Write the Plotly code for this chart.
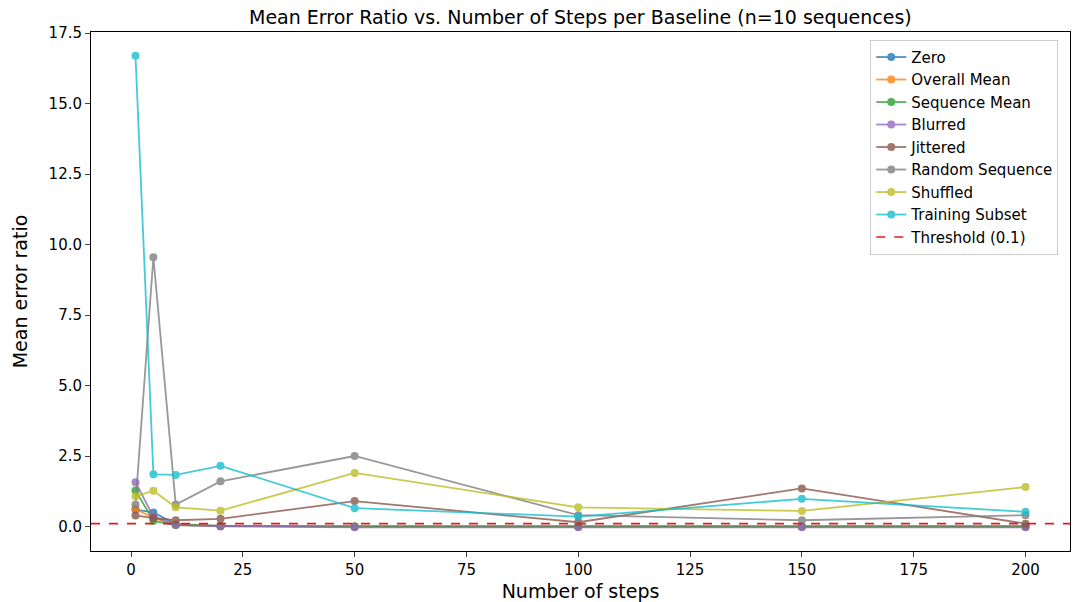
import plotly.graph_objects as go

steps = [1, 5, 10, 20, 50, 100, 150, 200]
zero = [0.6, 0.5, 0.08, 0.02, 0.0, 0.0, 0.0, 0.0]
overall_mean = [0.62, 0.3, 0.06, 0.02, 0.0, 0.0, 0.0, 0.0]
sequence_mean = [1.28, 0.2, 0.05, 0.02, 0.0, 0.0, 0.0, 0.0]
blurred = [1.57, 0.35, 0.05, 0.0, -0.03, -0.03, -0.03, -0.03]
jittered = [0.39, 0.3, 0.22, 0.27, 0.9, 0.15, 1.35, 0.1]
random_seq = [0.78, 9.55, 0.78, 1.6, 2.5, 0.4, 0.22, 0.4]
shuffled = [1.07, 1.27, 0.68, 0.56, 1.9, 0.68, 0.55, 1.4]
training_subset = [16.7, 1.85, 1.83, 2.15, 0.65, 0.35, 0.98, 0.52]

series = [("Zero", zero, "#1f77b4"), ("Overall Mean", overall_mean, "#ff7f0e"),
          ("Sequence Mean", sequence_mean, "#2ca02c"), ("Blurred", blurred, "#9467bd"),
          ("Jittered", jittered, "#8c564b"), ("Random Sequence", random_seq, "#7f7f7f"),
          ("Shuffled", shuffled, "#bcbd22"), ("Training Subset", training_subset, "#17becf")]

fig = go.Figure()
for name, vals, col in series:
    fig.add_trace(go.Scatter(x=steps, y=vals, name=name, mode="lines+markers",
                             line=dict(color=col, width=1.8), marker=dict(size=8, color=col),
                             opacity=0.8))
fig.add_trace(go.Scatter(x=[-8.95, 209.95], y=[0.1, 0.1], mode="lines", name="Threshold (0.1)",
                         line=dict(color="#e31a1c", dash="dash", width=1.6)))

fig.update_layout(
    width=1080, height=602, plot_bgcolor="white", paper_bgcolor="white",
    font=dict(family="DejaVu Sans", size=15, color="black"),
    title=dict(text="Mean Error Ratio vs. Number of Steps per Baseline (n=10 sequences)",
               x=0.53, xanchor="center", y=0.995, yanchor="top", font=dict(size=19)),
    margin=dict(l=83, r=18, t=24, b=55),
    xaxis=dict(title=dict(text="Number of steps", font=dict(size=19), standoff=6),
               range=[-8.95, 209.95], tickvals=[0, 25, 50, 75, 100, 125, 150, 175, 200],
               showline=True, linecolor="black", mirror=True, ticks="outside", showgrid=False, zeroline=False),
    yaxis=dict(title=dict(text="Mean error ratio", font=dict(size=19)),
               range=[-0.87, 17.54], tickvals=[0, 2.5, 5, 7.5, 10, 12.5, 15, 17.5],
               ticktext=["0.0", "2.5", "5.0", "7.5", "10.0", "12.5", "15.0", "17.5"],
               showline=True, linecolor="black", mirror=True, ticks="outside", showgrid=False, zeroline=False),
    legend=dict(x=0.988, y=0.985, xanchor="right", yanchor="top", bordercolor="#cccccc",
                borderwidth=1, font=dict(size=15), bgcolor="rgba(255,255,255,0.8)"),
)
fig.write_html("out.html")
